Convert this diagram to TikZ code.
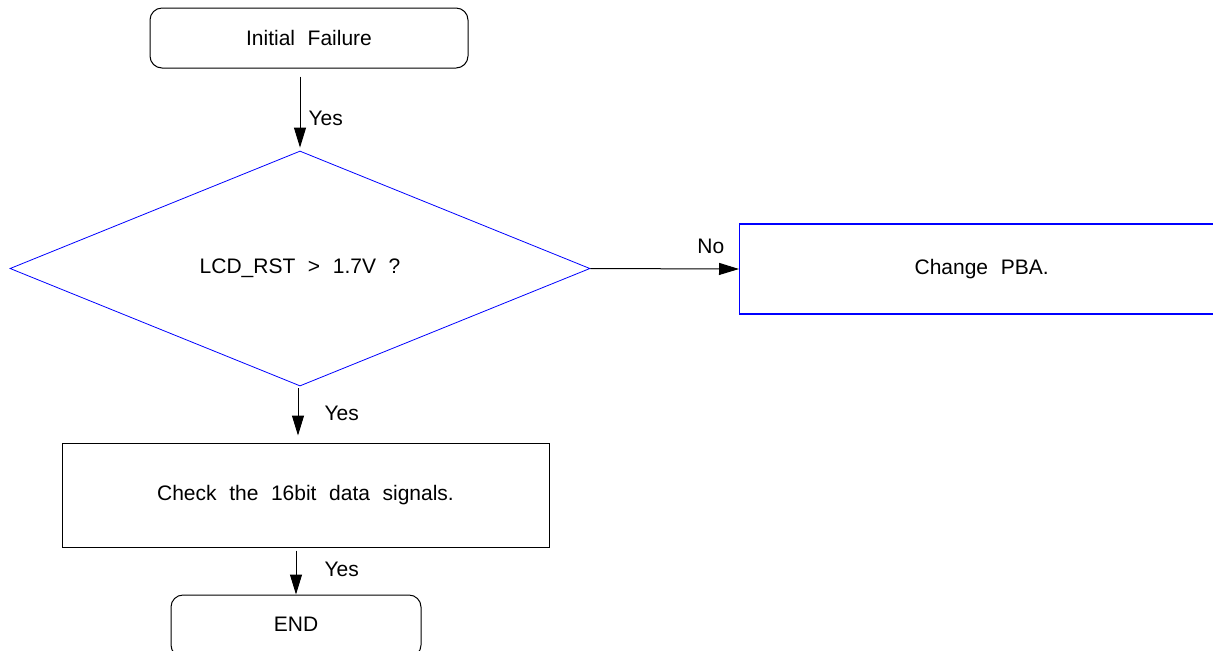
\documentclass[tikz,border=0pt]{standalone}
\usepackage{fontspec}
\setmainfont{Liberation Sans}
\usetikzlibrary{shapes.geometric,arrows.meta}
\tikzset{
  txt/.style={font={\fontsize{10.5}{12}\selectfont\spaceskip=0.6em\relax}},
  termbox/.style={draw=black, line width=0.5pt, rounded corners=6pt, txt},
  procbox/.style={draw=black, line width=0.5pt, txt},
  decbox/.style={draw=blue, line width=0.4pt, shape=diamond, inner sep=0pt, txt},
  flow/.style={black, line width=0.5pt, -{Triangle[length=10pt,width=6pt]}},
  lbl/.style={txt, inner sep=0pt}
}

\begin{document}
\begin{tikzpicture}[x=0.5pt,y=-0.5pt]
\useasboundingbox (0,0) rectangle (1213,650);
% nodes
\node[termbox, minimum width=159pt, minimum height=30pt] (start) at (309,38) {Initial Failure};
\node[decbox, minimum width=290pt, minimum height=117.5pt] (dec) at (300,268.5) {LCD\_RST > 1.7V ?};
\node[procbox, draw=blue, line width=0.6pt, anchor=west, minimum width=260pt, minimum height=45pt,
      label={[txt, xshift=-9pt]center:Change PBA.}] (pba) at (739,269) {};
\node[procbox, minimum width=243.5pt, minimum height=52pt] (check) at (305.5,495) {Check the 16bit data signals.};
\node[termbox, minimum width=125pt, minimum height=31pt] (end) at (296,626) {\raisebox{1.5pt}{END}};
% connectors
\draw[flow, shorten <=4pt, shorten >=1.5pt] (start.south -| dec.north) -- (dec.north)
  node[lbl, pos=0.61, anchor=west, xshift=4pt]{Yes};
\draw[flow] (dec.east) -- (pba.west)
  node[lbl, pos=0.81, yshift=11.5pt]{No};
\draw[flow, shorten <=1pt, shorten >=3.5pt] ([xshift=-1pt]dec.south) -- ([xshift=-1pt]dec.south |- check.north)
  node[lbl, pos=0.48, anchor=west, xshift=13pt]{Yes};
\draw[flow, shorten <=1.5pt] (check.south -| end.north) -- (end.north)
  node[lbl, pos=0.47, anchor=west, xshift=14pt]{Yes};
\end{tikzpicture}
\end{document}
